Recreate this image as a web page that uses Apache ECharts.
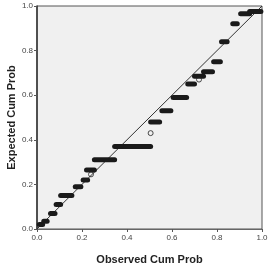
<!DOCTYPE html>
<html>
<head>
<meta charset="utf-8">
<script src="https://cdn.jsdelivr.net/npm/echarts@6/dist/echarts.min.js"></script>
<style>
  html, body { margin: 0; padding: 0; background: #fff; }
  #main { width: 269px; height: 272px; }
</style>
</head>
<body>
<div id="main"></div>
<script>
// tick labels
var tickLabels = ["0.0", "0.2", "0.4", "0.6", "0.8", "1.0"];

// runs of tied points: observed cum prob from / to, expected cum prob
var runFrom = [0.01, 0.03, 0.06, 0.085, 0.105, 0.17, 0.205, 0.22, 0.255, 0.345, 0.505, 0.555, 0.605, 0.67, 0.70, 0.74, 0.785, 0.82, 0.87, 0.905, 0.945];
var runTo   = [0.025, 0.045, 0.08, 0.105, 0.155, 0.195, 0.225, 0.255, 0.345, 0.505, 0.545, 0.595, 0.665, 0.70, 0.74, 0.78, 0.815, 0.845, 0.89, 0.945, 0.995];
var runY    = [0.02, 0.035, 0.07, 0.11, 0.15, 0.19, 0.22, 0.265, 0.31, 0.37, 0.48, 0.53, 0.59, 0.65, 0.685, 0.705, 0.75, 0.84, 0.92, 0.965, 0.975];

// single points
var singleX = [0.505, 0.24, 0.72];
var singleY = [0.43, 0.245, 0.67];

// reference diagonal
var diagX = [0, 1];
var diagY = [0, 1];

var series = [{
  type: "line",
  data: diagX.map(function (x, i) { return [x, diagY[i]]; }),
  symbol: "none",
  lineStyle: { color: "#333", width: 1 },
  z: 1
}];

runFrom.forEach(function (x0, i) {
  series.push({
    type: "line",
    data: [[x0, runY[i]], [runTo[i], runY[i]]],
    symbol: "none",
    lineStyle: { color: "#1a1a1a", width: 5, cap: "round" },
    z: 3
  });
});

series.push({
  type: "scatter",
  data: singleX.map(function (x, i) { return [x, singleY[i]]; }),
  symbol: "circle",
  symbolSize: 5,
  itemStyle: { color: "transparent", borderColor: "#222", borderWidth: 1 },
  z: 4
});

var labelFmt = function (v) { return tickLabels[Math.round(v * 5)]; };

var option = {
  animation: false,
  grid: {
    left: 37, top: 6, right: 7, bottom: 43,
    containLabel: false,
    outerBoundsMode: "none",
    show: true,
    backgroundColor: "#f0f0f0",
    borderColor: "#555",
    borderWidth: 1
  },
  xAxis: {
    type: "value", min: 0, max: 1, interval: 0.2,
    name: "Observed Cum Prob",
    nameLocation: "middle", nameGap: 25,
    nameMoveOverlap: false,
    nameTextStyle: { fontFamily: "Liberation Sans", fontWeight: "bold", fontSize: 11, color: "#222" },
    axisLine: { lineStyle: { color: "#666", width: 1 } },
    axisTick: { show: true, length: 3, lineStyle: { color: "#555" } },
    axisLabel: { formatter: labelFmt, fontSize: 8, color: "#444", margin: 5, fontFamily: "Liberation Sans" },
    splitLine: { show: false }
  },
  yAxis: {
    type: "value", min: 0, max: 1, interval: 0.2,
    name: "Expected Cum Prob",
    nameLocation: "middle", nameGap: 20,
    nameMoveOverlap: false,
    nameTextStyle: { fontFamily: "Liberation Sans", fontWeight: "bold", fontSize: 11, color: "#222" },
    axisLine: { show: true, lineStyle: { color: "#333", width: 1.5 } },
    axisTick: { show: true, length: 3, lineStyle: { color: "#555" } },
    axisLabel: { formatter: labelFmt, fontSize: 8, color: "#444", margin: 4, fontFamily: "Liberation Sans" },
    splitLine: { show: false }
  },
  series: series
};

var myChart = echarts.init(document.getElementById("main"));
myChart.setOption(option);
</script>
</body>
</html>
